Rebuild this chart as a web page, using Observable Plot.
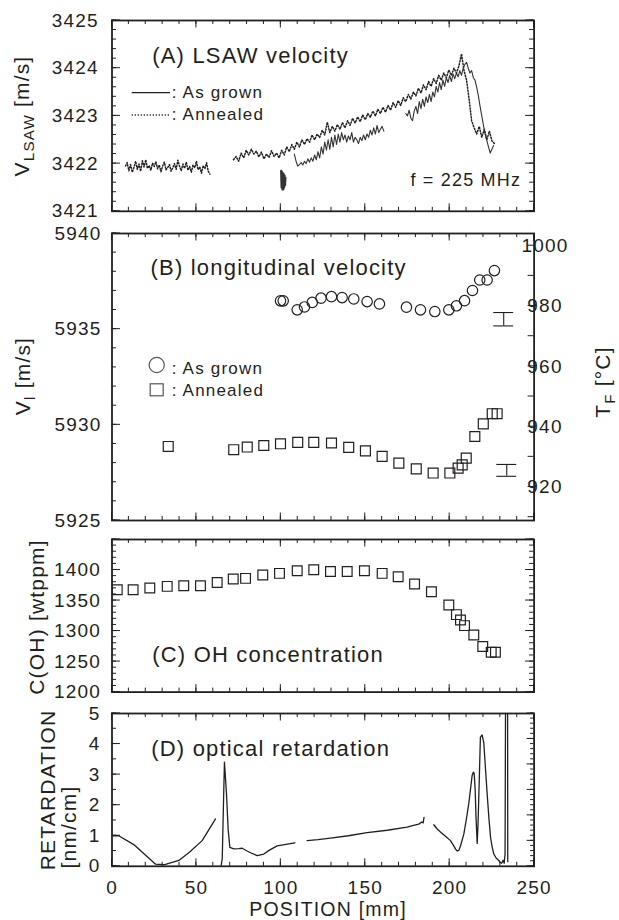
<!DOCTYPE html>
<html><head><meta charset="utf-8">
<script src="https://cdn.jsdelivr.net/npm/d3@7"></script>
<script src="https://cdn.jsdelivr.net/npm/@observablehq/plot@0.6"></script>
<style>
body{margin:0;background:#fff;}
#chart{position:relative;width:619px;height:920px;overflow:hidden;font-family:"Liberation Sans",Arial,Helvetica,sans-serif;}
#chart svg{position:absolute;left:0;overflow:visible;}
#chart text{letter-spacing:1.2px;}
</style></head><body><div id="chart"></div>
<script>
const INK = "#231f20";
const FONT = '"Liberation Sans", Arial, Helvetica, sans-serif';

// ---------- shared x axis ----------
const posDomain = [0, 250];
const posMajor = [0, 50, 100, 150, 200, 250];
const posMinor = d3.range(0, 251, 10);

// ---------- Panel A : LSAW velocity (m/s) ----------
const lsawDomain = [3421, 3425];
const lsawTicks = [3421, 3422, 3423, 3424, 3425];
const annealedA1Start = 8, annealedA1Step = 1;
const annealedA1 = [3421.95, 3422.02, 3421.85, 3421.98, 3421.82, 3421.92, 3422.05, 3421.88, 3421.99, 3421.84,
 3422.06, 3421.93, 3422.08, 3421.90, 3421.96, 3421.86, 3422.01, 3421.94, 3422.04, 3421.89,
 3421.97, 3421.83, 3421.95, 3422.03, 3421.87, 3421.92, 3421.98, 3421.84, 3421.91, 3422.00,
 3421.88, 3422.07, 3421.95, 3421.85, 3421.99, 3421.90, 3422.03, 3421.86, 3421.94, 3421.82,
 3421.97, 3421.91, 3422.05, 3421.87, 3421.93, 3421.80, 3421.96, 3421.89, 3422.02, 3421.84, 3421.78];
const annealedA2Start = 72, annealedA2Step = 1.5;
const annealedA2 = [3422.08, 3422.15, 3422.05, 3422.22, 3422.12, 3422.28, 3422.18, 3422.30, 3422.20, 3422.26,
 3422.14, 3422.24, 3422.10, 3422.20, 3422.13, 3422.27, 3422.15, 3422.22, 3422.12, 3422.28,
 3422.18, 3422.35, 3422.25, 3422.40, 3422.30, 3422.45, 3422.35, 3422.50, 3422.40, 3422.52,
 3422.45, 3422.60, 3422.50, 3422.62, 3422.55, 3422.70, 3422.60, 3422.87, 3422.65, 3422.78,
 3422.68, 3422.82, 3422.72, 3422.86, 3422.75, 3422.90, 3422.80, 3422.95, 3422.85, 3422.98,
 3422.88, 3423.02, 3422.92, 3423.05, 3422.97, 3423.10, 3423.00, 3423.14, 3423.05, 3423.18,
 3423.08, 3423.22, 3423.12, 3423.28, 3423.18, 3423.32, 3423.22, 3423.38, 3423.30, 3423.45,
 3423.35, 3423.50, 3423.42, 3423.58, 3423.48, 3423.65, 3423.55, 3423.72, 3423.62, 3423.78,
 3423.68, 3423.85, 3423.75, 3423.90, 3423.80, 3423.96, 3423.85, 3424.00, 3423.90, 3424.05,
 3424.30, 3423.95, 3423.75, 3423.35, 3422.90, 3422.75, 3422.62, 3422.78, 3422.55, 3422.72,
 3422.50, 3422.68, 3422.48, 3422.42];
const grownBlobStart = 100.2, grownBlobStep = 0.25;
const grownBlob = [3421.85, 3421.50, 3421.82, 3421.46, 3421.80, 3421.46, 3421.78, 3421.50, 3421.75, 3421.55, 3421.70];
const grownA1Start = 108, grownA1Step = 1;
const grownA1 = [3422.20, 3422.05, 3421.95, 3421.98, 3422.02, 3421.97, 3422.05, 3422.00, 3422.10, 3422.03,
 3422.12, 3422.05, 3422.18, 3422.08, 3422.25, 3422.12, 3422.35, 3422.20, 3422.45, 3422.28,
 3422.50, 3422.30, 3422.55, 3422.35, 3422.60, 3422.40, 3422.62, 3422.45, 3422.65, 3422.50,
 3422.60, 3422.45, 3422.58, 3422.50, 3422.65, 3422.45, 3422.55, 3422.50, 3422.42, 3422.55,
 3422.48, 3422.60, 3422.50, 3422.62, 3422.55, 3422.70, 3422.60, 3422.75, 3422.62, 3422.80,
 3422.65, 3422.72, 3422.78, 3422.68];
const grownA2Start = 174, grownA2Step = 1;
const grownA2 = [3423.05, 3423.00, 3423.12, 3422.95, 3422.90, 3423.10, 3423.20, 3423.05, 3423.30, 3423.15,
 3423.35, 3423.20, 3423.40, 3423.28, 3423.45, 3423.30, 3423.50, 3423.40, 3423.62, 3423.50,
 3423.70, 3423.55, 3423.75, 3423.62, 3423.80, 3423.70, 3423.85, 3423.72, 3423.88, 3423.78,
 3423.90, 3423.82, 3423.95, 3423.85, 3424.00, 3424.08, 3424.12, 3424.00, 3423.90, 3423.95,
 3423.80, 3423.75, 3423.60, 3423.42, 3423.20, 3423.00, 3422.80, 3422.62, 3422.48, 3422.35,
 3422.22, 3422.30, 3422.38];

// ---------- Panel B : longitudinal velocity (m/s) ----------
const vlDomain = [5925, 5940];
const vlTicks = [5925, 5930, 5935, 5940];
const tfDomain = [908.9, 1004.05];
const tfTicks = [920, 940, 960, 980, 1000];
const vlGrownPos = [99.8, 101.4, 109.7, 114.0, 118.6, 123.8, 130.0, 136.3, 143.2, 151.1, 158.4, 174.4, 182.7, 191.2, 199.5, 204.0, 208.8, 213.5, 217.8, 222.2, 226.5];
const vlGrown = [5936.48, 5936.48, 5936.01, 5936.16, 5936.40, 5936.62, 5936.70, 5936.65, 5936.58, 5936.44, 5936.32, 5936.15, 5936.01, 5935.92, 5936.01, 5936.22, 5936.49, 5937.02, 5937.57, 5937.57, 5938.06];
const vlAnnealedPos = [33.3, 72.1, 80.1, 89.9, 99.8, 110.0, 119.5, 130.0, 140.2, 150.1, 160.0, 169.9, 180.2, 190.2, 200.1, 205.0, 207.4, 209.8, 214.9, 219.9, 225.2, 228.1];
const vlAnnealed = [5928.87, 5928.70, 5928.84, 5928.92, 5929.01, 5929.08, 5929.08, 5929.05, 5928.82, 5928.64, 5928.35, 5928.00, 5927.70, 5927.48, 5927.48, 5927.74, 5927.91, 5928.26, 5929.39, 5930.05, 5930.58, 5930.58];
const errPos = [232.0, 233.8];
const errMid = [5935.52, 5927.62];
const errHalf = [0.35, 0.31];
const errCapHalf = 5.9;

// ---------- Panel C : OH concentration (wtppm) ----------
const ohDomain = [1200, 1450];
const ohTicks = [1200, 1250, 1300, 1350, 1400];
const ohPos = [3.1, 12.5, 22.4, 32.7, 42.5, 52.4, 62.3, 71.8, 79.1, 89.3, 99.2, 109.7, 119.5, 129.4, 139.3, 149.5, 160.0, 169.5, 179.2, 189.2, 199.5, 204.0, 206.4, 208.8, 214.3, 219.6, 224.6, 227.1];
const ohVal = [1367.8, 1367.8, 1370.5, 1373.2, 1374.3, 1374.3, 1379.7, 1385.3, 1386.3, 1391.8, 1394.5, 1398.9, 1400.5, 1397.7, 1397.7, 1398.9, 1394.5, 1389.0, 1377.1, 1364.5, 1342.7, 1326.9, 1318.2, 1308.9, 1293.7, 1274.6, 1265.3, 1265.3];

// ---------- Panel D : optical retardation (nm/cm) ----------
const retDomain = [0, 5];
const retTicks = [0, 1, 2, 3, 4, 5];
const retSeg1Pos = [0.5, 4.0, 12.9, 25.8, 30.7, 39.6, 46.0, 53.4, 61.3];
const retSeg1 = [1.0, 1.0, 0.71, 0.07, 0.05, 0.19, 0.47, 0.84, 1.55];
const retSeg2Pos = [64.6, 65.3, 66.0, 66.6, 67.2, 67.8, 68.8, 69.8, 72.1, 75.0, 77.1, 80.0, 83.0, 86.0, 89.9, 93.0, 97.8, 103.0, 108.3];
const retSeg2 = [0.0, 0.25, 2.0, 3.41, 2.9, 2.38, 1.2, 0.62, 0.57, 0.58, 0.59, 0.50, 0.42, 0.35, 0.40, 0.52, 0.67, 0.72, 0.77];
const retSeg3Pos = [115.6, 122.0, 129.4, 140.0, 151.1, 163.0, 174.8, 178.0, 181.7, 183.5, 184.3, 184.8];
const retSeg3 = [0.84, 0.87, 0.92, 1.00, 1.10, 1.18, 1.28, 1.33, 1.38, 1.45, 1.42, 1.60];
const retSeg4Pos = [190.6, 192.6, 195.0, 197.5, 200.5, 202.5, 203.5, 204.5, 205.4, 206.5, 208.4, 210.0, 211.3, 212.5, 213.3, 214.0, 214.5, 215.1, 215.6, 216.3, 216.8, 217.3, 218.2, 219.2, 220.2, 221.2, 222.2, 223.2, 224.2, 225.2, 226.1, 227.5, 229.1, 230.1, 230.8, 231.6, 232.3, 232.8, 233.1, 234.3, 234.4];
const retSeg4 = [1.36, 1.22, 1.10, 0.98, 0.84, 0.66, 0.56, 0.50, 0.52, 0.68, 1.06, 1.58, 2.05, 2.60, 2.97, 3.08, 3.05, 2.50, 1.60, 0.75, 1.40, 2.37, 4.23, 4.30, 4.05, 3.20, 2.37, 1.60, 0.95, 0.62, 0.41, 0.27, 0.19, 0.12, 0.10, 0.20, 0.10, 0.40, 5.6, 5.6, 0.15];
const retRightDomain = [0, 6];

// ---------- helpers ----------
const gridRows = (start, step, vals, seg) => vals.map((v, i) => ({x: start + i * step, y: v, seg}));
const pairRows = (xs, ys, seg) => xs.map((x, i) => ({x, y: ys[i], seg}));

function ticksMark({yMajor, yMinor, mirror = true, rightAxis = null}) {
  return (index, scales, values, dims) => {
    const {x, y} = scales;
    const L = dims.marginLeft, R = dims.width - dims.marginRight, T = dims.marginTop, B = dims.height - dims.marginBottom;
    const g = d3.create("svg:g").attr("stroke", INK).attr("stroke-width", 1).attr("fill", "none");
    const seg = (x1, y1, x2, y2) => g.append("line").attr("x1", x1).attr("y1", y1).attr("x2", x2).attr("y2", y2);
    for (const v of posMinor) { const p = x(v); seg(p, B, p, B - 4); seg(p, T, p, T + 4); }
    for (const v of posMajor) { const p = x(v); seg(p, B, p, B - 7.5); seg(p, T, p, T + 7.5); }
    for (const v of yMinor) { const p = y(v); seg(L, p, L + 4.5, p); if (mirror) seg(R, p, R - 4.5, p); }
    for (const v of yMajor) { const p = y(v); seg(L, p, L + 8.5, p); if (mirror) seg(R, p, R - 8.5, p); }
    if (rightAxis) {
      const s = d3.scaleLinear(rightAxis.domain, [B, T]);
      for (const v of rightAxis.minor) { const p = s(v); seg(R, p, R - rightAxis.minorLen, p); }
      for (const v of rightAxis.major) { const p = s(v); seg(R, p, R - rightAxis.majorLen, p); }
      if (rightAxis.labels) {
        const tg = g.append("g").attr("stroke", "none").attr("fill", INK).attr("font-size", 19);
        for (const v of rightAxis.labels) {
          tg.append("text").attr("x", R + 11.4).attr("y", s(v)).attr("dy", "0.35em").text(v);
        }
      }
    }
    return g.node();
  };
}

const chart = document.getElementById("chart");
function panel(top, bottom, yDomain, marks) {
  const frameH = bottom - top;
  const svg = Plot.plot({
    width: 619, height: frameH + 40,
    marginTop: 20, marginBottom: 20, marginLeft: 111.5, marginRight: 85.4,
    x: {domain: posDomain, axis: null},
    y: {domain: yDomain, axis: null},
    style: {background: "transparent", overflow: "visible", fontFamily: FONT, color: INK},
    marks
  });
  svg.style.top = (top - 20) + "px";
  chart.appendChild(svg);
}
const yLabels = (ticks, dx) => Plot.text(ticks, {y: d => d, text: d => String(d), frameAnchor: "left", dx, textAnchor: "end", fontSize: 19, fill: INK});
const panelTitle = (t, dx, dy) => Plot.text([t], {text: d => d, frameAnchor: "top-left", dx, dy, textAnchor: "start", lineAnchor: "bottom", fontSize: 22, fill: INK});

// ---------- Panel A ----------
const annealedRowsA = [...gridRows(annealedA1Start, annealedA1Step, annealedA1, "a1"), ...gridRows(annealedA2Start, annealedA2Step, annealedA2, "a2")];
const grownRowsA = [...gridRows(grownA1Start, grownA1Step, grownA1, "g1"), ...gridRows(grownA2Start, grownA2Step, grownA2, "g2")];
const blobRowsA = gridRows(grownBlobStart, grownBlobStep, grownBlob, "g0");
panel(19.6, 210.4, lsawDomain, [
  Plot.line(annealedRowsA, {x: "x", y: "y", z: "seg", stroke: INK, strokeWidth: 1.5, strokeDasharray: "1.2,1.8"}),
  Plot.line(grownRowsA, {x: "x", y: "y", z: "seg", stroke: "#333", strokeWidth: 1.1}),
  Plot.line(blobRowsA, {x: "x", y: "y", stroke: "#333", strokeWidth: 2.2}),
  Plot.frame({stroke: INK, strokeWidth: 1.8}),
  ticksMark({yMajor: lsawTicks, yMinor: d3.range(3421, 3425.01, 0.2)}),
  yLabels(lsawTicks, -13.2),
  panelTitle("(A) LSAW velocity", 40.2, 42.1),
  Plot.text(["f = 225 MHz"], {text: d => d, frameAnchor: "bottom-right", dx: -13, dy: -25.4, textAnchor: "end", lineAnchor: "bottom", fontSize: 18, fill: INK})
]);

// ---------- Panel B ----------
const grownRowsB = pairRows(vlGrownPos, vlGrown);
const annealedRowsB = pairRows(vlAnnealedPos, vlAnnealed);
const errRows = errPos.map((x, i) => ({x, lo: errMid[i] - errHalf[i], hi: errMid[i] + errHalf[i]}));
panel(233.3, 520.3, vlDomain, [
  Plot.dot(grownRowsB, {x: "x", y: "y", r: 5.2, stroke: INK, strokeWidth: 1.2, fill: "none"}),
  Plot.dot(annealedRowsB, {x: "x", y: "y", symbol: "square", r: 5.6, stroke: INK, strokeWidth: 1.2, fill: "none"}),
  Plot.ruleX(errRows, {x: "x", y1: "lo", y2: "hi", stroke: INK, strokeWidth: 1.1}),
  Plot.ruleY(errRows, {y: "lo", x1: d => d.x - errCapHalf, x2: d => d.x + errCapHalf, stroke: INK, strokeWidth: 1.1}),
  Plot.ruleY(errRows, {y: "hi", x1: d => d.x - errCapHalf, x2: d => d.x + errCapHalf, stroke: INK, strokeWidth: 1.1}),
  Plot.frame({stroke: INK, strokeWidth: 1.8}),
  ticksMark({yMajor: vlTicks, yMinor: d3.range(5925, 5940.01, 1), mirror: false,
    rightAxis: {domain: tfDomain, major: d3.range(910, 1001, 10), minor: [], majorLen: 6, minorLen: 3, labels: tfTicks}}),
  yLabels(vlTicks, -10.5),
  panelTitle("(B) longitudinal velocity", 38.5, 41.7)
]);

// ---------- Panel C ----------
panel(539, 691.6, ohDomain, [
  Plot.dot(pairRows(ohPos, ohVal), {x: "x", y: "y", symbol: "square", r: 5.5, stroke: INK, strokeWidth: 1.2, fill: "none"}),
  Plot.frame({stroke: INK, strokeWidth: 1.8}),
  ticksMark({yMajor: [1200, 1250, 1300, 1350, 1400, 1450], yMinor: d3.range(1200, 1451, 10)}),
  yLabels(ohTicks, -11),
  panelTitle("(C) OH concentration", 40.2, 122.7)
]);

// ---------- Panel D ----------
const retRows = [...pairRows(retSeg1Pos, retSeg1, "s1"), ...pairRows(retSeg2Pos, retSeg2, "s2"), ...pairRows(retSeg3Pos, retSeg3, "s3"), ...pairRows(retSeg4Pos, retSeg4, "s4")];
panel(712.9, 865.7, retDomain, [
  Plot.line(retRows, {x: "x", y: "y", z: "seg", stroke: INK, strokeWidth: 1.3, clip: true}),
  Plot.frame({stroke: INK, strokeWidth: 1.8}),
  ticksMark({yMajor: retTicks, yMinor: d3.range(0, 5.01, 0.5), mirror: false,
    rightAxis: {domain: retRightDomain, major: d3.range(0, 6.01, 1), minor: d3.range(0, 6.01, 0.2), majorLen: 7, minorLen: 3.5}}),
  yLabels(retTicks, -11.5),
  panelTitle("(D) optical retardation", 39.2, 42.1),
  Plot.text(posMajor, {x: d => d, text: d => String(d), frameAnchor: "bottom", dy: 27.6, lineAnchor: "bottom", fontSize: 19, fill: INK})
]);

// ---------- overlay: axis titles & legends ----------
const ov = d3.create("svg").attr("width", 619).attr("height", 920).style("top", "0px")
  .attr("font-family", FONT).attr("fill", INK);
function rotTitle(cx, cy, parts, size) {
  const t = ov.append("text").attr("transform", `translate(${cx},${cy}) rotate(-90)`)
    .attr("text-anchor", "middle").attr("font-size", size);
  for (const p of parts) {
    const ts = t.append("tspan").text(p.t);
    if (p.sub) ts.attr("font-size", size * 0.72).attr("dy", 5);
    if (p.after) ts.attr("dy", -5);
  }
}
rotTitle(29, 116, [{t: "V"}, {t: "LSAW", sub: true}, {t: " [m/s]", after: true}], 21);
rotTitle(30, 376, [{t: "V"}, {t: "l", sub: true}, {t: " [m/s]", after: true}], 21);
rotTitle(610, 382, [{t: "T"}, {t: "F", sub: true}, {t: " [°C]", after: true}], 21);
rotTitle(44, 617, [{t: "C(OH) [wtppm]"}], 21);
rotTitle(55, 790, [{t: "RETARDATION"}], 21);
rotTitle(76, 827, [{t: "[nm/cm]"}], 21);
ov.append("text").attr("x", 328).attr("y", 916).attr("text-anchor", "middle").attr("font-size", 19.5).text("POSITION [mm]");

// legend A
ov.append("line").attr("x1", 131.7).attr("x2", 170).attr("y1", 92.7).attr("y2", 92.7).attr("stroke", INK).attr("stroke-width", 1.2);
ov.append("text").attr("x", 171.7).attr("y", 98.3).attr("font-size", 17).text(": As grown");
ov.append("line").attr("x1", 131.7).attr("x2", 170).attr("y1", 115).attr("y2", 115).attr("stroke", INK).attr("stroke-width", 1.5).attr("stroke-dasharray", "1.2,1.8");
ov.append("text").attr("x", 171.7).attr("y", 120.3).attr("font-size", 17).text(": Annealed");
// legend B
ov.append("circle").attr("cx", 156.7).attr("cy", 365).attr("r", 7.6).attr("fill", "none").attr("stroke", "#555").attr("stroke-width", 1.2);
ov.append("text").attr("x", 171.7).attr("y", 373.5).attr("font-size", 17).text(": As grown");
ov.append("rect").attr("x", 150.2).attr("y", 383.8).attr("width", 13).attr("height", 12).attr("fill", "none").attr("stroke", "#555").attr("stroke-width", 1.2);
ov.append("text").attr("x", 171.7).attr("y", 395.7).attr("font-size", 17).text(": Annealed");
chart.appendChild(ov.node());
</script>
</body></html>
